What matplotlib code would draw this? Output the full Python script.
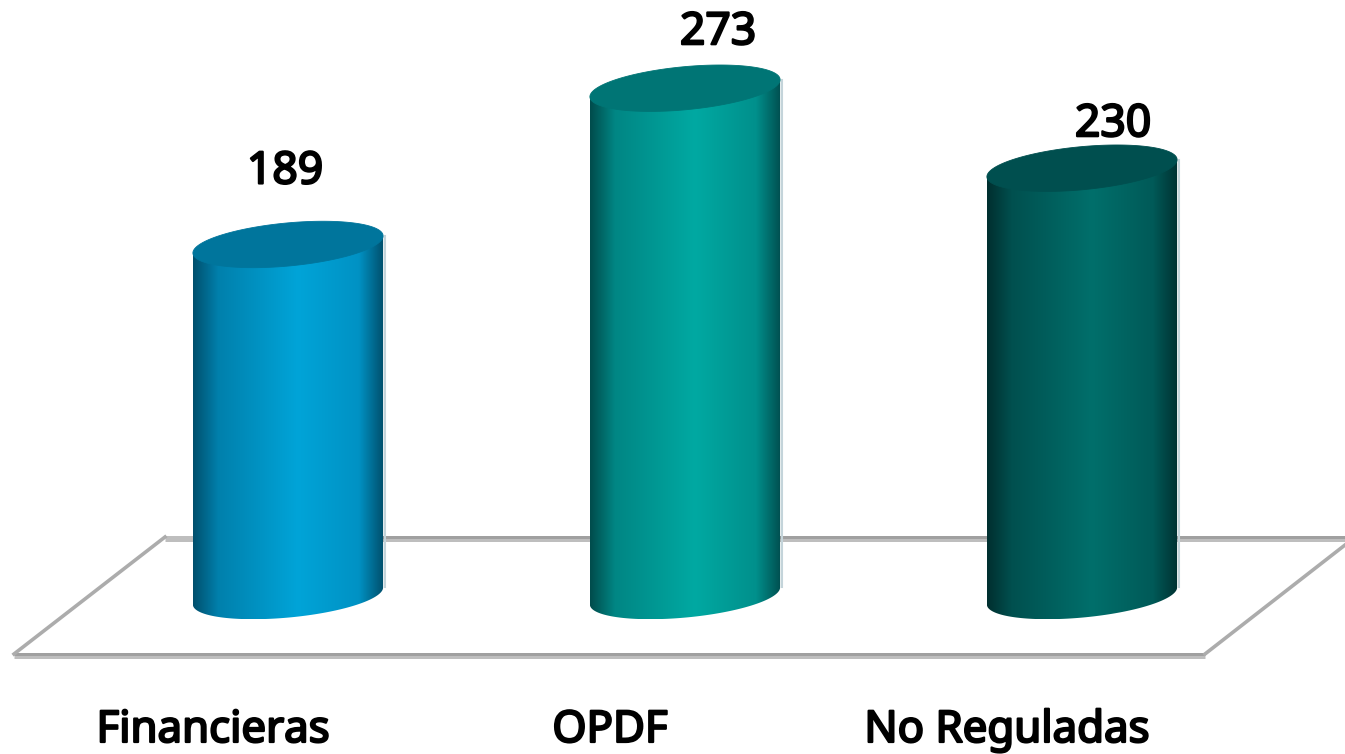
import numpy as np
import matplotlib
matplotlib.use('Agg')
import matplotlib.pyplot as plt
import matplotlib.patheffects as pe
from matplotlib.colors import LinearSegmentedColormap
from matplotlib.patches import Polygon

categories = ['Financieras', 'OPDF', 'No Reguladas']
values = [189, 273, 230]

# edge / shade / centre / shade / edge, top ellipse
bar_colors = [
    (['#004f6d', '#0080ac', '#00a4d8', '#0092c4', '#004f6c'], '#00759c'),
    (['#004c4c', '#008684', '#00a9a2', '#00908c', '#004f50'], '#007575'),
    (['#002f2f', '#00504f', '#006f6b', '#005a58', '#003232'], '#004f4f'),
]
# value label offsets from the top of each bar, pixels
label_dx = [-3, 33, 31]
label_dy = [61, 44, 32]

# pixels per unit on both axes
sx = 397.0
sy = 1.86
a = 95.5
b = 21.5
tilt = np.radians(5.4)

fig = plt.figure(figsize=(13.45, 7.54), dpi=100)
ax = fig.add_axes([0, 0, 1, 1])
ax.axis('off')


def px(x_px, y_px):
    # floor corners are given in picture pixels
    return (x_px - 288) / sx, (596 - y_px) / sy


def hline(x0, x1, y, col):
    p0, p1 = px(x0, y), px(x1, y)
    ax.plot([p0[0], p1[0]], [p0[1], p1[1]], color=col, lw=2.16, solid_capstyle='butt', zorder=1)


def ellipse(x0, y0):
    t = np.linspace(0, 2 * np.pi, 361)[:-1]
    ex = a * np.cos(t) * np.cos(tilt) - b * np.sin(t) * np.sin(tilt)
    ey = a * np.cos(t) * np.sin(tilt) + b * np.sin(t) * np.cos(tilt)
    return x0 + ex / sx, y0 + ey / sy


# floor
hline(165, 1345, 539.5, '#bebebe')
hline(165, 195, 536.5, '#bebebe')
hline(195, 1345, 536.5, '#a0a0a0')
hline(14, 1205, 656.5, '#bebebe')
hline(14, 1205, 653.5, '#a0a0a0')
for c0, c1 in (((14, 654), (165, 537)), ((1205, 654), (1345, 545))):
    p0, p1 = px(*c0), px(*c1)
    ax.plot([p0[0], p1[0]], [p0[1], p1[1]], color='#acacac', lw=2.6, zorder=1)

# cylinders
for i, v in enumerate(values):
    cols, top_col = bar_colors[i]
    bx, by = ellipse(i, 0)
    tx, ty = ellipse(i, v)
    il, ir = np.argmin(bx), np.argmax(bx)
    # walk round the lower arc of the bottom ellipse, left end to right end
    idx = np.arange(il, il + 361) % 360
    n = np.where(idx == ir)[0][0]
    low = idx[:n + 1]
    body = list(zip(bx[low], by[low]))
    body += [(tx[ir], ty[ir]), (tx[il], ty[il])]
    patch = Polygon(body, closed=True, fc='none', ec='none', transform=ax.transData)
    ax.add_patch(patch)

    cmap = LinearSegmentedColormap.from_list('c%d' % i, list(zip([0, 0.13, 0.55, 0.87, 1], cols)))
    grad = np.linspace(0, 1, 256).reshape(1, -1)
    im = ax.imshow(grad, cmap=cmap, aspect='auto', zorder=2, interpolation='bilinear',
                   extent=[bx.min(), bx.max(), by.min(), ty.max()])
    im.set_clip_path(patch)

    ax.plot([bx.max() + 1.5 / sx] * 2, [by[ir], ty[ir]], color='#c4d4da', lw=1.5, zorder=1.5)

    ax.fill(tx, ty, color=top_col, zorder=3, lw=0.6)

    # the installed Noto Sans has no heavy cut, so thicken with a stroke
    heavy = [pe.withStroke(linewidth=1.6, foreground='black')]
    ax.annotate(str(v), xy=(i, v), xytext=(label_dx[i], label_dy[i]), textcoords='offset pixels',
                ha='center', va='baseline', fontsize=32, family='Noto Sans',
                color='black', zorder=5, path_effects=heavy, annotation_clip=False)
    ax.annotate(categories[i], xy=(i, 0), xytext=(-75, -146), textcoords='offset pixels',
                ha='center', va='baseline', fontsize=31.5, family='Noto Sans',
                color='black', zorder=5, path_effects=heavy, annotation_clip=False)

ax.set_xlim(-288 / sx, (1345 - 288) / sx)
ax.set_ylim(-(754 - 596) / sy, 596 / sy)
fig.savefig('out.png', dpi=100)
